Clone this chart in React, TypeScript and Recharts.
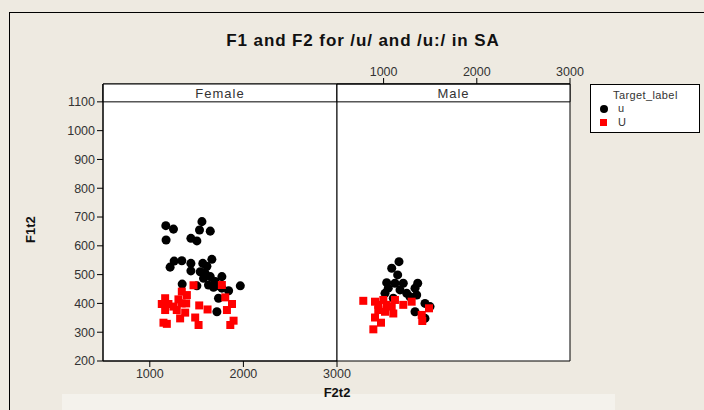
import { ScatterChart, Scatter, XAxis, YAxis, ReferenceArea, CartesianGrid } from 'recharts'

// ─── Data (F2t2, F1t2) ─────────────────────────────────────────────────────

const femaleU = [
  { x: 1171, y: 670 }, { x: 1253, y: 658 }, { x: 1174, y: 620 }, { x: 1557, y: 684 },
  { x: 1531, y: 655 }, { x: 1646, y: 651 }, { x: 1439, y: 626 }, { x: 1503, y: 617 },
  { x: 1260, y: 547 }, { x: 1342, y: 548 }, { x: 1217, y: 526 }, { x: 1439, y: 539 },
  { x: 1439, y: 513 }, { x: 1566, y: 539 }, { x: 1663, y: 553 }, { x: 1610, y: 529 },
  { x: 1539, y: 510 }, { x: 1592, y: 504 }, { x: 1646, y: 493 }, { x: 1574, y: 487 },
  { x: 1770, y: 493 }, { x: 1699, y: 476 }, { x: 1627, y: 464 }, { x: 1681, y: 456 },
  { x: 1734, y: 461 }, { x: 1842, y: 444 }, { x: 1967, y: 461 }, { x: 1346, y: 467 },
  { x: 1503, y: 461 }, { x: 1734, y: 418 }, { x: 1717, y: 371 }, { x: 1770, y: 453 },
]

const femaleUU = [
  { x: 1467, y: 463 }, { x: 1770, y: 464 }, { x: 1342, y: 441 }, { x: 1396, y: 429 },
  { x: 1164, y: 418 }, { x: 1306, y: 414 }, { x: 1128, y: 398 }, { x: 1199, y: 398 },
  { x: 1253, y: 389 }, { x: 1389, y: 400 }, { x: 1164, y: 377 }, { x: 1288, y: 377 },
  { x: 1378, y: 368 }, { x: 1528, y: 393 }, { x: 1617, y: 379 }, { x: 1806, y: 421 },
  { x: 1878, y: 398 }, { x: 1824, y: 377 }, { x: 1324, y: 348 }, { x: 1485, y: 351 },
  { x: 1521, y: 325 }, { x: 1146, y: 333 }, { x: 1182, y: 329 }, { x: 1895, y: 340 },
  { x: 1860, y: 325 }, { x: 1340, y: 400 },
]

const maleU = [
  { x: 1165, y: 545 }, { x: 1087, y: 522 }, { x: 1151, y: 499 }, { x: 1033, y: 472 },
  { x: 1122, y: 470 }, { x: 1211, y: 470 }, { x: 1366, y: 470 }, { x: 1337, y: 453 },
  { x: 1015, y: 435 }, { x: 1176, y: 447 }, { x: 1248, y: 435 }, { x: 1283, y: 423 },
  { x: 1355, y: 429 }, { x: 1444, y: 400 }, { x: 1498, y: 389 }, { x: 1337, y: 371 },
  { x: 1444, y: 348 }, { x: 1104, y: 418 }, { x: 1050, y: 453 },
]

const maleUU = [
  { x: 782, y: 409 }, { x: 908, y: 406 }, { x: 997, y: 412 }, { x: 1122, y: 412 },
  { x: 1301, y: 406 }, { x: 1211, y: 395 }, { x: 1087, y: 389 }, { x: 943, y: 377 },
  { x: 1015, y: 371 }, { x: 1104, y: 365 }, { x: 908, y: 351 }, { x: 972, y: 333 },
  { x: 890, y: 310 }, { x: 1409, y: 360 }, { x: 1415, y: 339 }, { x: 1487, y: 383 },
  { x: 1033, y: 395 }, { x: 943, y: 395 },
]

const xTicks = [1000, 2000, 3000]
const yTicks = [200, 300, 400, 500, 600, 700, 800, 900, 1000, 1100]

// ─── Constants ──────────────────────────────────────────────────────────────

const X_DOMAIN: [number, number] = [500, 3000]
const Y_DOMAIN: [number, number] = [200, 1162]
const STRIP_TOP = 1162
const STRIP_BOTTOM = 1100
const FONT = '"Liberation Sans", Arial, sans-serif'
const TICK = { fontSize: 12.5, fill: '#333', fontFamily: FONT }
const BG = '#EEEAE1'

function StripLabel({ text }: { text: string }) {
  return (
    <ReferenceArea
      x1={X_DOMAIN[0]}
      x2={X_DOMAIN[1]}
      y1={STRIP_BOTTOM}
      y2={STRIP_TOP}
      fill="#fff"
      fillOpacity={1}
      stroke="#000"
      strokeWidth={1}
      ifOverflow="visible"
      label={{ value: text, position: 'center', fill: '#333', fontSize: 13, fontFamily: FONT, letterSpacing: 1 }}
    />
  )
}

export default function App() {
  return (
    <div
      style={{
        position: 'absolute',
        left: 0,
        top: 0,
        width: 704,
        height: 410,
        background: BG,
        overflow: 'hidden',
        fontFamily: FONT,
      }}
    >
      {/* outer frame */}
      <div style={{ position: 'absolute', left: 9, top: 12, width: 720, height: 420, border: '1px solid #000' }} />
      <div style={{ position: 'absolute', left: 62, top: 394, width: 553, height: 20, background: '#F4F2EC' }} />

      {/* title */}
      <div
        style={{
          position: 'absolute',
          left: 0,
          width: 726,
          top: 31,
          textAlign: 'center',
          fontWeight: 'bold',
          fontSize: 17,
          color: '#111',
          letterSpacing: 0.9,
        }}
      >
        F1 and F2 for /u/ and /u:/ in SA
      </div>

      {/* Female panel */}
      <div style={{ position: 'absolute', left: 40, top: 72 }}>
        <ScatterChart width={322} height={329} margin={{ top: 12, right: 25, bottom: 0, left: 0 }}>
          <CartesianGrid fill="#fff" horizontal={false} vertical={false} />
          <XAxis
            type="number"
            dataKey="x"
            domain={X_DOMAIN}
            ticks={xTicks}
            interval={0}
            height={40}
            tick={TICK}
            axisLine={{ stroke: '#000' }}
            tickLine={{ stroke: '#000' }}
            allowDataOverflow
          />
          <YAxis
            type="number"
            dataKey="y"
            domain={Y_DOMAIN}
            ticks={yTicks}
            interval={0}
            width={63}
            tick={TICK}
            axisLine={{ stroke: '#000' }}
            tickLine={{ stroke: '#000' }}
            allowDataOverflow
          />
          <ReferenceArea
            x1={X_DOMAIN[0]}
            x2={X_DOMAIN[1]}
            y1={Y_DOMAIN[0]}
            y2={Y_DOMAIN[1]}
            fill="none"
            stroke="#000"
            ifOverflow="visible"
          />
          {StripLabel({ text: 'Female' })}
          <Scatter data={femaleU} fill="#000" shape="circle" isAnimationActive={false} />
          <Scatter data={femaleUU} fill="#FF0000" shape="square" isAnimationActive={false} />
        </ScatterChart>
      </div>

      {/* Male panel */}
      <div style={{ position: 'absolute', left: 330, top: 50 }}>
        <ScatterChart width={265} height={316} margin={{ top: 4, right: 25, bottom: 5, left: 7 }}>
          <CartesianGrid fill="#fff" horizontal={false} vertical={false} />
          <XAxis
            type="number"
            dataKey="x"
            orientation="top"
            domain={X_DOMAIN}
            ticks={xTicks}
            interval={0}
            height={30}
            tick={TICK}
            axisLine={{ stroke: '#000' }}
            tickLine={{ stroke: '#000' }}
            allowDataOverflow
          />
          <YAxis type="number" dataKey="y" domain={Y_DOMAIN} hide allowDataOverflow />
          <ReferenceArea
            x1={X_DOMAIN[0]}
            x2={X_DOMAIN[1]}
            y1={Y_DOMAIN[0]}
            y2={Y_DOMAIN[1]}
            fill="none"
            stroke="#000"
            ifOverflow="visible"
          />
          {StripLabel({ text: 'Male' })}
          <Scatter data={maleU} fill="#000" shape="circle" isAnimationActive={false} />
          <Scatter data={maleUU} fill="#FF0000" shape="square" isAnimationActive={false} />
        </ScatterChart>
      </div>

      {/* axis titles */}
      <div
        style={{
          position: 'absolute',
          left: 312,
          width: 50,
          top: 385,
          textAlign: 'center',
          fontWeight: 'bold',
          fontSize: 13,
          color: '#111',
        }}
      >
        F2t2
      </div>
      <div
        style={{
          position: 'absolute',
          left: 10,
          top: 222,
          width: 40,
          textAlign: 'center',
          fontWeight: 'bold',
          fontSize: 13,
          color: '#111',
          transform: 'rotate(-90deg)',
        }}
      >
        F1t2
      </div>

      {/* legend */}
      <div
        style={{
          position: 'absolute',
          left: 590,
          top: 84,
          width: 108,
          height: 47,
          background: '#fff',
          border: '1px solid #000',
          fontSize: 11,
          color: '#333',
        }}
      >
        <div style={{ position: 'absolute', left: 22, top: 4, letterSpacing: 0.4 }}>Target_label</div>
        <div style={{ position: 'absolute', left: 9, top: 20, width: 8, height: 8, borderRadius: 4, background: '#000' }} />
        <div style={{ position: 'absolute', left: 27, top: 17 }}>u</div>
        <div style={{ position: 'absolute', left: 9, top: 34, width: 7, height: 7, background: '#FF0000' }} />
        <div style={{ position: 'absolute', left: 27, top: 31 }}>U</div>
      </div>
    </div>
  )
}
